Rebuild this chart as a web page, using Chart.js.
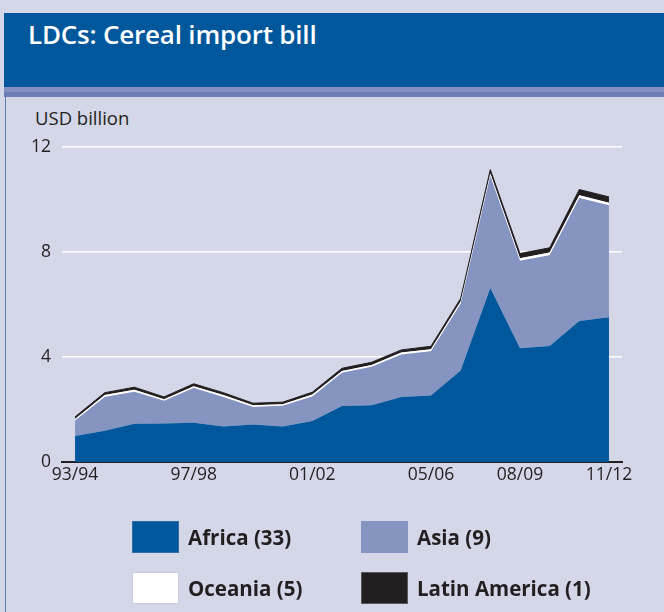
<!DOCTYPE html>
<html>
<head>
<meta charset="utf-8">
<script src="https://cdn.jsdelivr.net/npm/chart.js@4/dist/chart.umd.min.js"></script>
<style>
  html, body { margin: 0; padding: 0; }
  body { width: 664px; height: 612px; background: #d4d7e8; position: relative; overflow: hidden; font-family: "Open Sans", "Noto Sans", sans-serif; color: #231f20; }
  #header { position: absolute; left: 4px; top: 13px; width: 660px; height: 74px; background: #00579b; }
  #title { position: absolute; left: 28px; top: 21px; color: #fff; font-size: 26px; line-height: 1; font-weight: 600; letter-spacing: -0.2px; white-space: nowrap; }
  #band1 { position: absolute; left: 4px; top: 87px; width: 660px; height: 5px; background: #8591c3; }
  #band2 { position: absolute; left: 4px; top: 92px; width: 660px; height: 5px; background: #6d7fb8; }
  #leftline { position: absolute; left: 5px; top: 92px; width: 1px; height: 520px; background: #5f78b3; }
  #unit { position: absolute; left: 35px; top: 108.5px; font-size: 18.5px; line-height: 1; white-space: nowrap; }
  #chartwrap { position: absolute; left: 0; top: 0; width: 664px; height: 612px; }
  .sw { position: absolute; width: 47px; height: 32px; box-sizing: border-box; border: 1px solid transparent; }
  .lt { position: absolute; font-size: 20.5px; font-weight: 700; line-height: 24px; white-space: nowrap; }
</style>
</head>
<body>
<div id="header"></div>
<div id="title">LDCs: Cereal import bill</div>
<div id="band1"></div>
<div id="band2"></div>
<div id="leftline"></div>
<div id="unit">USD billion</div>
<div id="chartwrap"><canvas id="c" width="664" height="612"></canvas></div>
<div id="legend"></div>
<script>
// ---- Data (USD billion) ----
const years = ["93/94","94/95","95/96","96/97","97/98","98/99","99/00","00/01","01/02","02/03",
               "03/04","04/05","05/06","06/07","07/08","08/09","09/10","10/11","11/12"];
const tickYears = ["93/94","97/98","01/02","05/06","08/09","11/12"];
const africa  = [0.99,1.19,1.46,1.47,1.50,1.35,1.43,1.35,1.56,2.13,2.16,2.48,2.53,3.49,6.63,4.33,4.42,5.37,5.51];
const asia    = [0.59,1.29,1.22,0.86,1.32,1.13,0.67,0.79,0.94,1.27,1.47,1.62,1.69,2.54,4.27,3.34,3.46,4.69,4.27];
const oceania = [0.06,0.07,0.07,0.06,0.07,0.07,0.06,0.06,0.07,0.07,0.07,0.07,0.08,0.08,0.09,0.09,0.10,0.10,0.10];
const latin   = [0.08,0.09,0.10,0.09,0.09,0.09,0.08,0.08,0.09,0.10,0.10,0.10,0.11,0.12,0.15,0.18,0.18,0.22,0.22];
const seriesNames = ["Africa (33)","Asia (9)","Oceania (5)","Latin America (1)"];
const yTicks = [0,4,8,12];

const colors = ["#00579b","#8594c1","#ffffff","#231f20"];
const swBorders = ["#2f6ea8","#8594c1","#c9cce0","#5a5a5a"];

const toXY = arr => arr.map((v,i) => ({x:i, y:v}));
const seriesData = [africa, asia, oceania, latin];

const datasets = seriesData.map((arr, k) => ({
  label: seriesNames[k],
  data: toXY(arr),
  backgroundColor: colors[k],
  borderColor: colors[k],
  borderWidth: k === 3 ? 1 : 0,
  pointRadius: 0,
  tension: 0,
  fill: k === 0 ? 'origin' : '-1'
}));

new Chart(document.getElementById('c'), {
  type: 'line',
  data: { datasets },
  options: {
    responsive: false,
    animation: false,
    layout: { padding: { left: 0, right: 42, top: 147, bottom: 0 } },
    plugins: { legend: { display: false }, tooltip: { enabled: false } },
    scales: {
      x: {
        type: 'linear',
        min: -0.44,
        max: 18.44,
        afterFit: s => { s.height = 150; },
        afterBuildTicks: s => { s.ticks = tickYears.map(t => ({ value: years.indexOf(t) })); },
        ticks: {
          autoSkip: false,
          maxRotation: 0,
          padding: 3,
          color: '#231f20',
          font: { family: '"Open Sans", sans-serif', size: 17.5 },
          callback: v => years[v]
        },
        grid: { display: false, drawTicks: false },
        border: { display: true, color: '#231f20', width: 2 }
      },
      y: {
        stacked: true,
        min: 0,
        max: 12,
        afterFit: s => { s.width = 62; },
        afterBuildTicks: s => { s.ticks = yTicks.map(v => ({ value: v })); },
        ticks: {
          padding: 11,
          color: '#231f20',
          font: { family: '"Open Sans", sans-serif', size: 17.5 }
        },
        grid: { color: '#ffffff', lineWidth: 1.5, drawTicks: false },
        border: { display: false }
      }
    }
  }
});

// Legend (HTML, 2x2 grid)
const legendPos = [[132,521],[361,521],[132,572],[361,572]];
const lg = document.getElementById('legend');
seriesNames.forEach((name, k) => {
  const [lx, ly] = legendPos[k];
  const sw = document.createElement('div');
  sw.className = 'sw';
  sw.style.left = lx + 'px'; sw.style.top = ly + 'px';
  sw.style.background = colors[k];
  sw.style.borderColor = swBorders[k];
  lg.appendChild(sw);
  const t = document.createElement('div');
  t.className = 'lt';
  t.textContent = name;
  t.style.left = (lx + 56) + 'px'; t.style.top = (ly + 4) + 'px';
  lg.appendChild(t);
});
</script>
</body>
</html>
